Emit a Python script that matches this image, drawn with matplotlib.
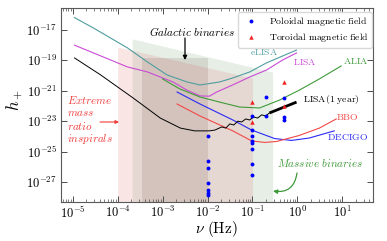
import numpy as np
import matplotlib
matplotlib.use("Agg")
import matplotlib.pyplot as plt
from matplotlib.ticker import FuncFormatter, LogLocator, NullLocator

plt.rcParams['mathtext.fontset'] = 'cm'
plt.rcParams['font.family'] = ['DejaVu Serif']

# ---------------- data ----------------
elisa_f = [1.1e-5, 2.9e-5, 1.66e-4, 4.6e-4, 1.26e-3, 3.5e-3, 6.8e-3, 1.86e-2, 3.6e-2, 8.7e-2, 0.204, 0.955]
elisa_h = [6.5e-17, 1.35e-17, 6.6e-19, 7.9e-20, 1.1e-20, 3.8e-21, 2.4e-21, 3.8e-21, 6.9e-21, 1.74e-20, 6.8e-20, 4.8e-19]

lisa_f = [1.1e-5, 2.9e-5, 1.66e-4, 4.6e-4, 8.9e-4, 1.7e-3, 3.5e-3, 6.8e-3, 1.1e-2, 1.6e-2, 3.6e-2, 8.7e-2, 0.204, 0.47, 0.955]
lisa_h = [1.0e-18, 3.1e-19, 3.7e-20, 1.74e-20, 8.1e-21, 3.8e-21, 1.1e-21, 4.6e-22, 4.4e-22, 8.3e-22, 2.4e-21, 8.1e-21, 2.3e-20, 1.07e-19, 3.1e-19]

lisa1_f = [1.1e-5, 4.2e-5, 2.2e-4, 8.9e-4, 2.5e-3, 5.2e-3, 1.1e-2, 1.46e-2, 2.08e-2, 2.55e-2, 3.13e-2,
           3.84e-2, 4.71e-2, 5.77e-2, 7.08e-2, 8.67e-2, 0.106, 0.130, 0.160, 0.196, 0.240]
lisa1_h = [1.45e-19, 1.1e-20, 3.4e-22, 1.6e-23, 3.5e-24, 2.3e-24, 2.3e-24, 2.6e-24, 4.2e-24, 3.5e-24, 6.6e-24,
           5.6e-24, 1.0e-23, 8.9e-24, 1.4e-23, 1.2e-23, 1.9e-23, 1.6e-23, 2.6e-23, 2.2e-23, 3.5e-23]
lisa1_hi_f = [0.240, 0.955]
lisa1_hi_h = [3.5e-23, 1.8e-22]

alia_f = [1.0e-3, 2.45e-3, 6.8e-3, 1.86e-2, 5.2e-2, 0.144, 0.40, 1.1, 3.07, 9.4]
alia_h = [6.0e-21, 1.3e-21, 3.9e-22, 1.8e-22, 8.5e-23, 7.4e-23, 2.45e-22, 1.1e-21, 6.0e-21, 4.3e-20]

decigo_f = [2.1e-3, 6.8e-3, 3.65e-2, 0.096, 0.31, 0.736, 1.84, 6.6]
decigo_h = [8.3e-22, 1.35e-22, 1.2e-23, 2.6e-24, 7.2e-25, 5.4e-25, 7.8e-25, 2.3e-24]

bbo_f = [2.1e-3, 6.8e-3, 3.65e-2, 0.096, 0.186, 0.343, 1.1, 3.07, 7.3]
bbo_h = [1.35e-22, 2.2e-23, 2.3e-24, 5.0e-25, 4.0e-25, 4.6e-25, 1.15e-24, 3.5e-24, 1.4e-23]

poloidal_f = [0.01] * 7 + [0.1] * 8 + [0.2] * 2 + [0.5] * 3
poloidal_h = [1.1e-24, 2.4e-26, 8.7e-27, 8.1e-28, 2.75e-28, 1.9e-28, 1.4e-28,
              2.35e-23, 2.6e-24, 1.0e-24, 5.0e-25, 3.5e-25, 1.4e-25, 1.5e-26, 2.9e-27,
              3.9e-22, 2.3e-23,
              3.6e-22, 2.0e-23, 1.2e-23]
toroidal_f = [0.1, 0.1, 0.5, 0.5]
toroidal_h = [1.8e-22, 9.3e-24, 4.0e-21, 1.07e-22]

# source regions: frequency span and upper edge at both ends
emri_f = [1.0e-4, 0.1]
emri_top = [7.6e-19, 6.9e-21]
massive_f = [2.1e-4, 0.28]
massive_top = [2.6e-18, 1.7e-20]
galactic_f = [3.4e-4, 1.0e-2]
galactic_top = [1.45e-19, 1.45e-19]
h_floor = 1e-30

# ---------------- figure ----------------
W, H = 387, 241
fig = plt.figure(figsize=(W / 100, H / 100), dpi=100)
L, R, T, B = 61, 373, 8, 202
ax = fig.add_axes([L / W, 1 - B / H, (R - L) / W, (B - T) / H])
ax.set_xscale('log')
ax.set_yscale('log')


def afrac(px, py):
    return ((px - L) / (R - L), (B - py) / (B - T))


c_teal = '#4f9d9f'
c_mag = '#c94bd6'
c_green = '#3f9a3a'
c_blue = '#2a2af5'
c_red = '#f24848'

# regions
ax.fill_between(massive_f, massive_top, h_floor, color='#5a8f5a', alpha=0.15, lw=0, zorder=1)
ax.fill_between(emri_f, emri_top, h_floor, color='#e57373', alpha=0.18, lw=0, zorder=1)
ax.fill_between(galactic_f, galactic_top, h_floor, color='#7a6050', alpha=0.16, lw=0, zorder=1)

lw = 0.8
ax.plot(elisa_f, elisa_h, color=c_teal, lw=lw, zorder=3)
ax.plot(lisa_f, lisa_h, color=c_mag, lw=lw, zorder=3)
ax.plot(alia_f, alia_h, color=c_green, lw=lw, zorder=3)
ax.plot(decigo_f, decigo_h, color=c_blue, lw=lw, zorder=3)
ax.plot(bbo_f, bbo_h, color=c_red, lw=lw, zorder=3)
ax.plot(lisa1_f, lisa1_h, color='black', lw=0.7, zorder=3)
ax.plot(lisa1_hi_f, lisa1_hi_h, color='black', lw=2.0, zorder=3, solid_capstyle='butt')

ax.plot(poloidal_f, poloidal_h, 'o', color='blue', ms=2.8, mec='none', ls='none', zorder=5,
        label=r'$\mathrm{Poloidal\ magnetic\ field}$')
ax.plot(toroidal_f, toroidal_h, '^', color='#ee2222', ms=3.2, mec='none', ls='none', zorder=5,
        label=r'$\mathrm{Toroidal\ magnetic\ field}$')

ax.set_xlim(5.5e-6, 48)
ax.set_ylim(4.8e-29, 2.8e-16)

# ticks
ax.set_xticks([10.0 ** k for k in range(-5, 2)])
ax.xaxis.set_minor_locator(LogLocator(base=10, subs=np.arange(2, 10), numticks=20))
ax.set_yticks([10.0 ** k for k in range(-27, -16, 2)])
ax.yaxis.set_minor_locator(NullLocator())
fmt = FuncFormatter(lambda v, p: r'$10^{%d}$' % int(round(np.log10(v))))
ax.xaxis.set_major_formatter(fmt)
ax.yaxis.set_major_formatter(fmt)
ax.tick_params(which='both', direction='in', top=True, right=True, colors='0.3', labelcolor='black')
ax.tick_params(which='major', length=4, width=0.7, labelsize=9)
ax.tick_params(axis='x', which='major', pad=2)
ax.tick_params(axis='y', which='major', pad=3)
ax.tick_params(which='minor', length=2, width=0.5)
for s in ax.spines.values():
    s.set_color('0.35')
    s.set_linewidth(0.8)

ax.set_ylabel(r'$h_+$', fontsize=12)
ax.yaxis.set_label_coords(*afrac(25, 100))
ax.set_xlabel(r'$\nu\ (\mathrm{Hz})$', fontsize=11)
ax.xaxis.set_label_coords(*afrac(216, 219))

# curve labels
fs = 7
ax.text(*afrac(264, 52), r'$\mathrm{eLISA}$', color=c_teal, fontsize=fs, ha='center', va='center', transform=ax.transAxes)
ax.text(*afrac(305, 62), r'$\mathrm{LISA}$', color=c_mag, fontsize=fs, ha='center', va='center', transform=ax.transAxes)
ax.text(*afrac(356, 61), r'$\mathrm{ALIA}$', color=c_green, fontsize=fs, ha='center', va='center', transform=ax.transAxes)
ax.text(*afrac(303, 99), r'$\mathrm{LISA(1\ year)}$', color='black', fontsize=fs, ha='left', va='center', transform=ax.transAxes)
ax.text(*afrac(347, 117), r'$\mathrm{BBO}$', color=c_red, fontsize=fs, ha='center', va='center', transform=ax.transAxes)
ax.text(*afrac(348, 137), r'$\mathrm{DECIGO}$', color=c_blue, fontsize=fs, ha='center', va='center', transform=ax.transAxes)

# source annotations
ax.text(*afrac(192, 32), r'$\mathit{Galactic\ binaries}$', color='black', fontsize=8, ha='center', va='center', transform=ax.transAxes)
ax.annotate('', xy=afrac(185, 60), xytext=afrac(185, 38), xycoords='axes fraction', textcoords='axes fraction',
            arrowprops=dict(arrowstyle='-|>', color='black', lw=0.9, mutation_scale=6, shrinkA=0, shrinkB=0))

ax.text(*afrac(320, 163), r'$\mathit{Massive\ binaries}$', color=c_green, fontsize=8, ha='center', va='center', transform=ax.transAxes)
ax.annotate('', xy=afrac(273, 191), xytext=afrac(297, 173), xycoords='axes fraction', textcoords='axes fraction',
            arrowprops=dict(arrowstyle='-|>', color=c_green, lw=0.9, mutation_scale=6, shrinkA=0, shrinkB=0,
                            connectionstyle='arc3,rad=-0.5'))

c_emri = '#f03c3c'
for txt, py in [('Extreme', 100), ('mass', 113), ('ratio', 126), ('inspirals', 139)]:
    ax.text(*afrac(67, py), r'$\mathit{%s}$' % txt, color=c_emri, fontsize=8, ha='left', va='center', transform=ax.transAxes)
ax.annotate('', xy=afrac(119, 122), xytext=afrac(100, 122), xycoords='axes fraction', textcoords='axes fraction',
            arrowprops=dict(arrowstyle='-|>', color=c_emri, lw=0.8, mutation_scale=5, shrinkA=0, shrinkB=0))

leg = ax.legend(loc='upper right', bbox_to_anchor=afrac(372, 12), fontsize=7, frameon=True, fancybox=True,
                edgecolor='0.85', framealpha=1, handlelength=2.0, handletextpad=0.8, borderpad=0.35,
                labelspacing=0.3, borderaxespad=0)
leg.set_zorder(10)

fig.savefig('out.png', dpi=100)
